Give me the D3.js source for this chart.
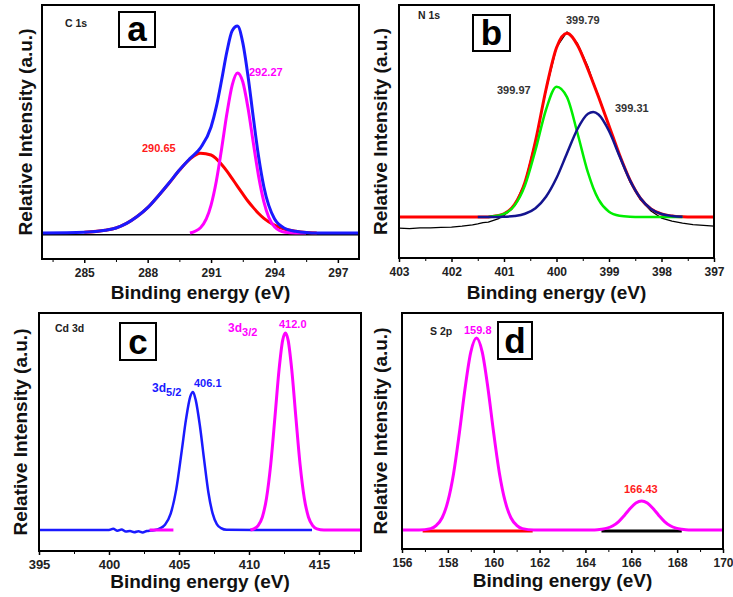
<!DOCTYPE html>
<html>
<head>
<meta charset="utf-8">
<script src="https://cdn.jsdelivr.net/npm/d3@7"></script>
<style>
  body { margin: 0; background: #fff; }
  svg { display: block; font-family: "Liberation Sans", Arial, sans-serif; }
  .tick text { font-weight: bold; fill: #222; }
</style>
</head>
<body>
<div id="chart"></div>
<script>
/*
 * Four XPS panels (C 1s, N 1s, Cd 3d, S 2p), intensities.
 * Intensity is in arbitrary units with the fit background at 0.
 */

// ---- (a) C 1s ----
const aEnergy = [283, 285, 286, 286.5, 287, 287.5, 288, 288.5, 289, 289.5, 290, 290.5, 291, 291.25, 291.5,
  291.75, 292, 292.25, 292.5, 292.75, 293, 293.25, 293.5, 294, 294.5, 295, 295.5, 296, 298];
const aEnvelope = [0, 0.3, 1.1, 2.0, 3.8, 6.5, 10.0, 14.6, 19.6, 24.8, 29.3, 33.5, 41.7, 49.7, 60.2,
  71.4, 79.6, 81.4, 74.9, 61.6, 45.4, 30.0, 18.1, 5.6, 1.8, 0.7, 0.2, 0, 0];
const aPeak29065 = [null, 0.3, 1.1, 2.0, 3.8, 6.5, 10.0, 14.6, 19.5, 24.7, 29.1, 31.4, 30.7, 29.2, 27.0,
  24.4, 21.4, 18.4, 15.4, 12.5, 10.0, 7.7, 5.8, 3.1, 1.5, 0.7, 0.2, 0, null];
const aPeak29227 = [null, null, null, null, null, null, null, null, null, null, 0, 2.1, 11.0, 20.5, 33.2,
  47.0, 58.2, 63.0, 59.5, 49.1, 35.4, 22.3, 12.3, 2.5, 0.3, 0, 0, null, null];
const aBgEnergy = [283, 298];
const aBackground = [-0.7, -0.7];
const aTicks = [285, 288, 291, 294, 297];

// ---- (b) N 1s ----
const bEnergy = [403, 402.8, 402.6, 402.4, 402.2, 402.0, 401.8, 401.6, 401.5, 401.4, 401.3, 401.2, 401.1,
  401.0, 400.8, 400.6, 400.4, 400.2, 400.0, 399.8, 399.6, 399.4, 399.3, 399.2, 399.0, 398.8, 398.6, 398.4,
  398.2, 398.0, 397.8, 397.6, 397.4, 397.2, 397.0];
const bRaw = [-4.4, -4.6, -4.3, -4.3, -4.1, -4.0, -3.6, -3.1, -2.7, -2.2, -2.0, -1.3, -0.6,
  0.6, 4.6, 13.6, 30.2, 50.2, 67.0, 73.2, 68.6, 59.4, 53.2, 47.8, 36.0, 24.2, 14.0, 6.8,
  2.4, -0.4, -1.6, -2.4, -3.0, -3.3, -3.6];
const bFit = [0, 0, 0, 0, 0, 0, 0, 0, 0, 0, 0, 0.3, 0.6,
  1.3, 4.9, 13.8, 30.0, 50.4, 66.9, 72.6, 67.9, 58.3, 53.0, 47.5, 36.1, 24.6, 14.6, 7.4,
  3.2, 1.2, 0.4, 0.1, 0, 0, 0];
const bPeak39997 = [null, null, null, null, null, null, null, null, null, null, 0, 0.3, 0.6,
  1.2, 4.5, 12.5, 26.5, 42.4, 51.5, 47.4, 33.1, 17.5, 11.5, 7.0, 2.1, 0.5, 0.1, 0,
  0, 0, 0, 0, null, null, null];
const bPeak39931 = [null, null, null, null, null, null, null, null, 0, 0, 0, 0, 0,
  0.1, 0.4, 1.3, 3.5, 8.0, 15.4, 25.2, 34.8, 40.8, 41.5, 40.5, 34.0, 24.1, 14.5, 7.4,
  3.2, 1.2, 0.4, 0.1, null, null, null];
const bTicks = [403, 402, 401, 400, 399, 398, 397];

// ---- (c) Cd 3d ----
const c3d52Energy = [395, 400.0, 400.3, 400.6, 400.9, 401.2, 401.5, 401.8, 402.1, 402.4, 402.7, 403.0,
  403.3, 403.6, 404.0, 404.4, 404.8, 405.2, 405.5, 405.8, 406.0, 406.2, 406.5, 406.8, 407.1, 407.4,
  407.7, 408.0, 408.4, 414.5];
const c3d52 = [0, 0, 0.5, -0.3, 0.2, -0.6, -0.4, -0.9, -0.5, -1.0, -0.4, -0.2,
  0, 0.6, 2.2, 6.8, 17.0, 33.5, 46.5, 56.0, 58.0, 54.5, 43.5, 29.3, 15.8, 7.0,
  2.5, 0.8, 0.1, 0];
const c3d32Energy = [402.9, 404.6, 404.7, 410.1, 410.35, 410.65, 410.95, 411.25, 411.55, 411.85, 412.15,
  412.4, 412.6, 412.8, 413.05, 413.35, 413.65, 413.95, 414.25, 414.55, 414.85, 415.35, 418];
const c3d32 = [0, 0, null, 0, 0.5, 1.9, 5.4, 13.4, 27.5, 47.2, 67.6,
  79.6, 82.8, 79.6, 67.6, 47.2, 27.5, 13.4, 5.4, 1.9, 0.5, 0, 0];
const cTicks = [395, 400, 405, 410, 415];

// ---- (d) S 2p ----
const dEnergy = [156, 156.75, 157.25, 157.5, 157.75, 158.0, 158.25, 158.5, 158.75, 159.0, 159.25, 159.5,
  159.75, 160.0, 160.25, 160.5, 160.75, 161.0, 161.25, 161.75, 164.4, 164.7, 164.95, 165.2, 165.45,
  165.7, 165.95, 166.2, 166.45, 166.7, 166.95, 167.2, 167.45, 167.7, 167.95, 168.2, 168.5, 170];
const dEnvelope = [0, 0, 0.6, 2.0, 5.2, 12.1, 24.0, 41.0, 60.0, 75.4, 81.4, 75.4,
  60.0, 41.0, 24.0, 12.1, 5.2, 2.0, 0.6, 0, 0, 0.3, 0.8, 1.8, 3.6,
  6.2, 9.1, 11.4, 12.3, 11.4, 9.1, 6.2, 3.6, 1.8, 0.8, 0.3, 0, 0];
const dBg1Energy = [156.9, 161.7];
const dBg1 = [-0.45, -0.45];
const dBg2Energy = [164.7, 168.2];
const dBg2 = [-0.45, -0.45];
const dTicks = [156, 158, 160, 162, 164, 166, 168, 170];

const BLUE = "#1a1aff", MAGENTA = "#ff00ff", RED = "#ff0000", GREEN = "#00ee00", NAVY = "#14148f";

const svg = d3.select("#chart").append("svg").attr("width", 733).attr("height", 597);

/*
 * Frame, bottom axis and axis titles of one panel; returns group and scales
 */
function drawPanel(p) {
  let g = svg.append("g").attr("transform", "translate(" + p.left + "," + p.top + ")");
  let x = d3.scaleLinear().domain(p.xDomain).range([0, p.width]);
  let y = d3.scaleLinear().domain(p.yDomain).range([p.height, 0]);

  // minor ticks without labels
  g.append("g")
    .attr("transform", "translate(0," + p.height + ")")
    .call(d3.axisBottom(x).tickValues(p.minor).tickSize(3).tickFormat(""))
    .call((a) => a.select(".domain").remove());

  g.append("g")
    .attr("class", "x-axis")
    .attr("transform", "translate(0," + p.height + ")")
    .call(d3.axisBottom(x).tickValues(p.ticks).tickSize(4).tickPadding(5).tickFormat(d3.format("d")))
    .call((a) => a.select(".domain").remove())
    .call((a) => a.selectAll("line").attr("stroke", "#000").attr("stroke-width", 1.5))
    .selectAll("text")
    .style("font-size", p.tickFont + "px");

  g.append("text")
    .attr("x", p.width / 2)
    .attr("y", p.titleY)
    .attr("text-anchor", "middle")
    .style("font-size", "19px")
    .style("font-weight", "bold")
    .style("fill", "#111")
    .text("Binding energy (eV)");

  g.append("text")
    .attr("transform", "translate(" + p.yTitleX + "," + p.height / 2 + ") rotate(-90)")
    .attr("text-anchor", "middle")
    .attr("dy", "0.36em")
    .style("font-size", "19px")
    .style("font-weight", "bold")
    .style("fill", "#111")
    .text("Relative Intensity (a.u.)");

  return { g: g, x: x, y: y, p: p };
}

function addLine(panel, energies, values, color, width, curve) {
  let pts = energies.map((e, i) => [e, values[i]]);
  let line = d3.line()
    .defined((d) => d[1] !== null)
    .x((d) => panel.x(d[0]))
    .y((d) => panel.y(d[1]))
    .curve(curve || d3.curveMonotoneX);
  panel.g.append("path")
    .datum(pts)
    .attr("class", "line")
    .attr("d", line)
    .style("fill", "none")
    .style("stroke", color)
    .style("stroke-width", width)
    .style("stroke-linejoin", "round");
}

function addFrame(panel) {
  panel.g.append("rect")
    .attr("width", panel.p.width)
    .attr("height", panel.p.height)
    .style("fill", "none")
    .style("stroke", "#000")
    .style("stroke-width", 2);
}

function addText(panel, tx, ty, str, color, size, sub) {
  let t = panel.g.append("text")
    .attr("x", tx)
    .attr("y", ty)
    .style("font-size", size + "px")
    .style("font-weight", "bold")
    .style("fill", color)
    .text(str);
  if (sub) {
    t.append("tspan").attr("dy", 4).style("font-size", (size - 1) + "px").text(sub);
  }
}

function addBadge(panel, bx, by, bw, bh, letter) {
  panel.g.append("rect")
    .attr("x", bx).attr("y", by).attr("width", bw).attr("height", bh)
    .style("fill", "#fff").style("stroke", "#000").style("stroke-width", 2);
  panel.g.append("text")
    .attr("x", bx + bw / 2)
    .attr("y", by + bh - 6)
    .attr("text-anchor", "middle")
    .style("font-size", "35px")
    .style("font-weight", "bold")
    .style("fill", "#000")
    .text(letter);
}

// ---- panel a ----
let pa = drawPanel({
  left: 42, top: 5, width: 317, height: 254,
  xDomain: [283, 298], yDomain: [-10.2, 89.7],
  ticks: aTicks, minor: d3.range(283.5, 298, 3), tickFont: 12,
  titleY: 294, yTitleX: -17
});
addLine(pa, aBgEnergy, aBackground, "#000", 1.5, d3.curveLinear);
addLine(pa, aEnergy, aPeak29065, RED, 3);
addLine(pa, aEnergy, aPeak29227, MAGENTA, 3);
addLine(pa, aEnergy, aEnvelope, BLUE, 3);
addFrame(pa);
addText(pa, 23, 22, "C 1s", "#222", 10.5);
addText(pa, 100, 147, "290.65", "#ff1a1a", 11);
addText(pa, 207, 71, "292.27", MAGENTA, 11);
addBadge(pa, 77, 7, 36, 35, "a");

// ---- panel b ----
let pb = drawPanel({
  left: 399, top: 5, width: 315, height: 253,
  xDomain: [403, 397], yDomain: [-16.2, 83.8],
  ticks: bTicks, minor: d3.range(402.5, 397, -1), tickFont: 12,
  titleY: 294, yTitleX: -19
});
addLine(pb, bEnergy, bRaw, "#000", 1.3, d3.curveLinear);
addLine(pb, bEnergy, bFit, RED, 3);
addLine(pb, bEnergy, bPeak39997, GREEN, 2.5);
addLine(pb, bEnergy, bPeak39931, NAVY, 2.5);
addFrame(pb);
addText(pb, 19, 14, "N 1s", "#222", 10.5);
addText(pb, 167, 19, "399.79", "#333", 11);
addText(pb, 98, 89, "399.97", "#333", 11);
addText(pb, 216, 107, "399.31", "#333", 11);
addBadge(pb, 74, 10, 37, 36, "b");

// ---- panel c ----
let pc = drawPanel({
  left: 39, top: 313, width: 322, height: 238,
  xDomain: [395, 418], yDomain: [-8.8, 91.2],
  ticks: cTicks, minor: d3.range(397.5, 418, 5), tickFont: 13,
  titleY: 275, yTitleX: -19
});
addLine(pc, c3d52Energy, c3d52, BLUE, 2.5);
addLine(pc, c3d32Energy, c3d32, MAGENTA, 3);
addFrame(pc);
addText(pc, 16, 19, "Cd 3d", "#222", 10.5);
addText(pc, 113, 79, "3d", BLUE, 12, "5/2");
addText(pc, 155, 74, "406.1", BLUE, 11);
addText(pc, 189, 19, "3d", MAGENTA, 12, "3/2");
addText(pc, 240, 15, "412.0", MAGENTA, 11);
addBadge(pc, 81, 10, 36, 37, "c");

// ---- panel d ----
let pd = drawPanel({
  left: 402, top: 313, width: 321, height: 236,
  xDomain: [156, 170], yDomain: [-8.05, 92.0],
  ticks: dTicks, minor: d3.range(157, 170, 2), tickFont: 12,
  titleY: 274, yTitleX: -22
});
addLine(pd, dBg1Energy, dBg1, RED, 3, d3.curveLinear);
addLine(pd, dBg2Energy, dBg2, "#000", 3, d3.curveLinear);
addLine(pd, dEnergy, dEnvelope, MAGENTA, 3);
addFrame(pd);
addText(pd, 28, 22, "S 2p", "#222", 10.5);
addText(pd, 62, 21, "159.8", MAGENTA, 11);
addText(pd, 222, 180, "166.43", "#ff1a1a", 11);
addBadge(pd, 96, 9, 34, 37, "d");
</script>
</body>
</html>
